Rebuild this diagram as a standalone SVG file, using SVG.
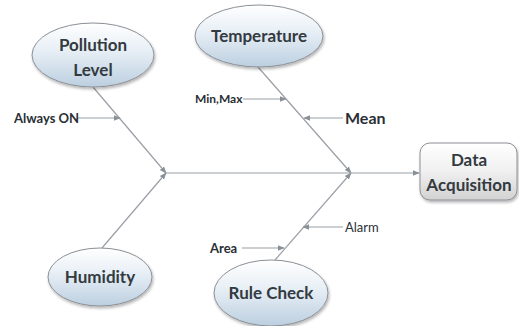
<svg xmlns="http://www.w3.org/2000/svg" width="519" height="326" viewBox="0 0 519 326">
<defs>
<linearGradient id="eg" x1="0" y1="0" x2="0" y2="1">
<stop offset="0" stop-color="#ffffff"/>
<stop offset="0.45" stop-color="#e6eef5"/>
<stop offset="1" stop-color="#bccfe0"/>
</linearGradient>
<linearGradient id="rg" x1="0" y1="0" x2="0" y2="1">
<stop offset="0" stop-color="#ffffff"/>
<stop offset="0.5" stop-color="#f0f0f0"/>
<stop offset="1" stop-color="#d2d2d2"/>
</linearGradient>
<filter id="sh" x="-20%" y="-20%" width="140%" height="150%">
<feGaussianBlur in="SourceAlpha" stdDeviation="1.5"/>
<feOffset dx="1" dy="2"/>
<feComponentTransfer><feFuncA type="linear" slope="0.3"/></feComponentTransfer>
<feMerge><feMergeNode/><feMergeNode in="SourceGraphic"/></feMerge>
</filter>
<marker id="ah" viewBox="0 0 10 10" refX="9" refY="5" markerWidth="7" markerHeight="7" markerUnits="userSpaceOnUse" orient="auto">
<path d="M0,1 L10,5 L0,9 z" fill="#8a9098"/>
</marker>
</defs>
<style>
.ln{stroke:#9a9fa5;stroke-width:1.2;fill:none}
.ar{stroke:#9a9fa5;stroke-width:1.2;fill:none;marker-end:url(#ah)}
.el{fill:url(#eg);stroke:#8c9096;stroke-width:1;filter:url(#sh)}
.nt{font-family:Lato,"Liberation Sans",sans-serif;font-weight:bold;font-size:17px;fill:#333a40;text-anchor:middle}
.lb{font-family:Lato,"Liberation Sans",sans-serif;font-weight:bold;font-size:13px;fill:#2a2f35}
</style>
<rect width="519" height="326" fill="#ffffff"/>
<g id="connectors">
<line class="ar" x1="93" y1="87" x2="166" y2="173"/>
<line class="ar" x1="102" y1="248" x2="166" y2="173"/>
<line class="ar" x1="258" y1="67" x2="351" y2="173"/>
<line class="ar" x1="275" y1="260" x2="351" y2="173"/>
<line class="ar" x1="166" y1="173" x2="419" y2="173"/>
<line class="ar" x1="77" y1="118" x2="120" y2="118"/>
<line class="ar" x1="243" y1="99" x2="286" y2="99"/>
<line class="ar" x1="343" y1="118" x2="304" y2="118"/>
<line class="ar" x1="242" y1="248" x2="284" y2="248"/>
<line class="ar" x1="343" y1="227" x2="303" y2="227"/>
</g>
<g id="pollution">
<ellipse class="el" cx="93" cy="55" rx="61" ry="32"/>
<text class="nt" x="93" y="51">Pollution</text>
<text class="nt" x="93" y="76">Level</text>
</g>
<g id="temperature">
<ellipse class="el" cx="259" cy="36" rx="64" ry="31"/>
<text class="nt" x="259" y="42">Temperature</text>
</g>
<g id="humidity">
<ellipse class="el" cx="100" cy="277" rx="52" ry="29"/>
<text class="nt" x="100" y="283">Humidity</text>
</g>
<g id="rulecheck">
<ellipse class="el" cx="271" cy="293" rx="57" ry="33"/>
<text class="nt" x="271" y="299">Rule Check</text>
</g>
<g id="data">
<rect x="420" y="143" width="97" height="57" rx="10" ry="10" fill="url(#rg)" stroke="#8c9096" stroke-width="1" filter="url(#sh)"/>
<text class="nt" x="469" y="166">Data</text>
<text class="nt" x="469" y="191">Acquisition</text>
</g>
<g id="labels">
<text class="lb" x="14" y="123">Always ON</text>
<text class="lb" x="195" y="103" style="font-size:12px">Min,Max</text>
<text class="lb" x="345" y="124" style="font-size:16px">Mean</text>
<text class="lb" x="210" y="253">Area</text>
<text class="lb" x="345" y="232" style="font-weight:normal">Alarm</text>
</g>
</svg>
